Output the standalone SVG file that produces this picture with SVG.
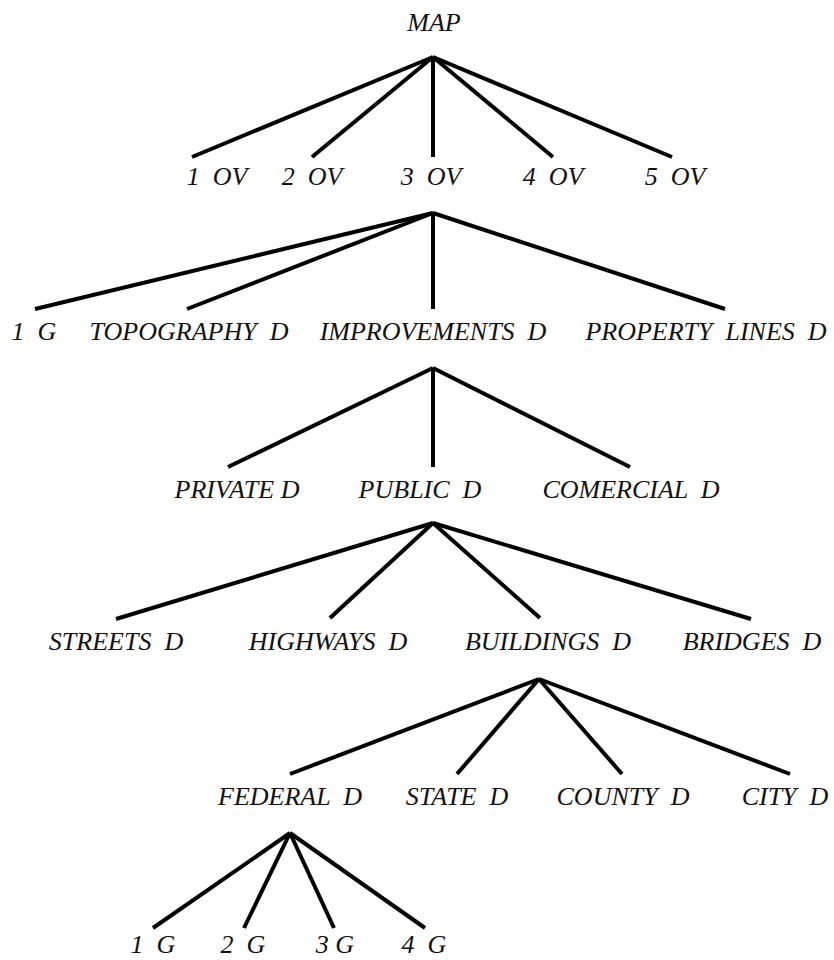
<svg xmlns="http://www.w3.org/2000/svg" width="834" height="960" viewBox="0 0 834 960">
<style>
.t{font-family:"Liberation Serif","Times New Roman",serif;font-style:italic;font-size:26px;fill:#111;text-anchor:middle;white-space:pre}
.c line{stroke:#000;stroke-width:4;stroke-linecap:butt}
</style>
<rect width="834" height="960" fill="#fff"/>
<g class="c" id="connectors">
<line x1="433" y1="57" x2="192" y2="157"/>
<line x1="433" y1="57" x2="312" y2="157"/>
<line x1="433" y1="57" x2="433" y2="157"/>
<line x1="433" y1="57" x2="553" y2="157"/>
<line x1="433" y1="57" x2="672" y2="157"/>
<line x1="433" y1="213" x2="35" y2="309"/>
<line x1="433" y1="213" x2="187" y2="309"/>
<line x1="433" y1="213" x2="433" y2="309"/>
<line x1="433" y1="213" x2="725" y2="309"/>
<line x1="433" y1="368" x2="228" y2="467"/>
<line x1="433" y1="368" x2="433" y2="467"/>
<line x1="433" y1="368" x2="630" y2="467"/>
<line x1="433" y1="523" x2="116" y2="619"/>
<line x1="433" y1="523" x2="330" y2="618"/>
<line x1="433" y1="523" x2="540" y2="618"/>
<line x1="433" y1="523" x2="751" y2="619"/>
<line x1="539" y1="679" x2="290" y2="774"/>
<line x1="539" y1="679" x2="457" y2="774"/>
<line x1="539" y1="679" x2="622" y2="774"/>
<line x1="539" y1="679" x2="790" y2="774"/>
<line x1="290" y1="833" x2="153" y2="928"/>
<line x1="290" y1="833" x2="244" y2="928"/>
<line x1="290" y1="833" x2="334" y2="928"/>
<line x1="290" y1="833" x2="425" y2="928"/>
</g>
<g id="n-map"><text class="t" x="434" y="31">MAP</text></g>
<g id="n-1ov"><text class="t" x="217" y="185">1  OV</text></g>
<g id="n-2ov"><text class="t" x="312" y="185">2  OV</text></g>
<g id="n-3ov"><text class="t" x="431" y="185">3  OV</text></g>
<g id="n-4ov"><text class="t" x="553" y="185">4  OV</text></g>
<g id="n-5ov"><text class="t" x="675" y="185">5  OV</text></g>
<g id="n-1g-a"><text class="t" x="34" y="340">1  G</text></g>
<g id="n-topo"><text class="t" x="189" y="340">TOPOGRAPHY  D</text></g>
<g id="n-impr"><text class="t" x="433" y="340">IMPROVEMENTS  D</text></g>
<g id="n-prop"><text class="t" x="706" y="340">PROPERTY  LINES  D</text></g>
<g id="n-private"><text class="t" x="237" y="498">PRIVATE D</text></g>
<g id="n-public"><text class="t" x="420" y="498">PUBLIC  D</text></g>
<g id="n-comercial"><text class="t" x="631" y="498">COMERCIAL  D</text></g>
<g id="n-streets"><text class="t" x="116" y="650">STREETS  D</text></g>
<g id="n-highways"><text class="t" x="328" y="650">HIGHWAYS  D</text></g>
<g id="n-buildings"><text class="t" x="548" y="650">BUILDINGS  D</text></g>
<g id="n-bridges"><text class="t" x="752" y="650">BRIDGES  D</text></g>
<g id="n-federal"><text class="t" x="290" y="805">FEDERAL  D</text></g>
<g id="n-state"><text class="t" x="457" y="805">STATE  D</text></g>
<g id="n-county"><text class="t" x="623" y="805">COUNTY  D</text></g>
<g id="n-city"><text class="t" x="785" y="805">CITY  D</text></g>
<g id="n-1g"><text class="t" x="153" y="953">1  G</text></g>
<g id="n-2g"><text class="t" x="243" y="953">2  G</text></g>
<g id="n-3g"><text class="t" x="335" y="953">3 G</text></g>
<g id="n-4g"><text class="t" x="424" y="953">4  G</text></g>
</svg>
